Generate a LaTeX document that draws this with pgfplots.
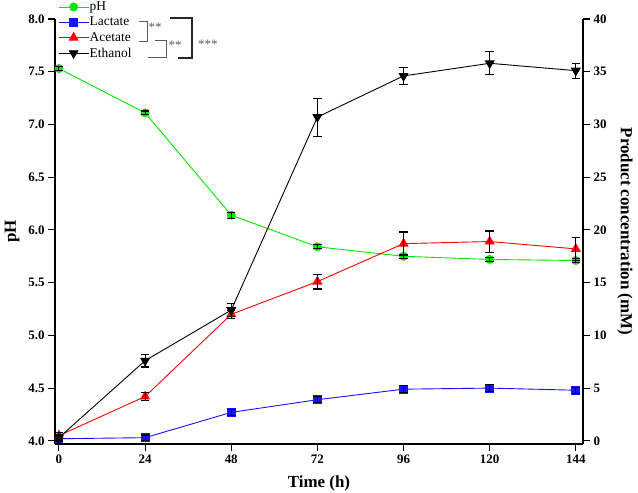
\documentclass[border=0pt]{standalone}
\usepackage{pgfplots}
\pgfplotsset{compat=1.18}
\usepackage{fontspec}
\setmainfont{Liberation Serif}
\definecolor{phgreen}{RGB}{0,230,0}
\definecolor{lacblue}{RGB}{20,20,255}
\definecolor{acred}{RGB}{255,0,0}
\definecolor{bracketgray}{RGB}{90,90,90}
\begin{document}
\begin{tikzpicture}
\pgfplotsset{
  common/.style={
    at={(55bp,-444bp)}, anchor=south west,
    scale only axis, width=528bp, height=425bp,
    xmin=-1.1, xmax=146,
    clip=false, clip marker paths=true,
    tick align=outside,
    major tick length=7bp,
    axis line style={-, line width=1.2pt},
    tick style={line width=1.1pt, black},
    tick label style={font=\fontsize{13}{14}\selectfont\bfseries},
    /pgf/number format/assume math mode=true,
    label style={font=\fontsize{17}{19}\selectfont\bfseries},
  },
  ebar/.style={
    draw=none, mark=none, forget plot,
    error bars/.cd, y dir=both, y explicit,
    error bar style={draw=black, line width=1.1pt, solid},
    error mark options={rotate=90, mark size=4.2pt, draw=black, line width=1.1pt},
  },
}
\pgfplotstableread{
t v e
0 7.53 0.02
24 7.11 0.018
48 6.14 0.028
72 5.84 0.02
96 5.75 0.018
120 5.72 0.018
144 5.71 0.02
}\phdata
\pgfplotstableread{
t v e
0 0.2 0.25
24 0.3 0.25
48 2.7 0.3
72 3.9 0.3
96 4.9 0.35
120 5.0 0.3
144 4.8 0.3
}\lacdata
\pgfplotstableread{
t v e
0 0.5 0.3
24 4.2 0.4
48 12.0 0.4
72 15.1 0.7
96 18.7 1.1
120 18.9 1.0
144 18.2 1.1
}\acdata
\pgfplotstableread{
t v e
0 0.3 0.3
24 7.6 0.6
48 12.4 0.6
72 30.7 1.8
96 34.6 0.8
120 35.8 1.1
144 35.1 0.7
}\etdata
% left axis: pH
\begin{axis}[common,
  axis y line*=left, axis x line*=bottom,
  ymin=3.97, ymax=8,
  ytick={4,4.5,...,8},
  yticklabel style={/pgf/number format/.cd, fixed, fixed zerofill, precision=1},
  xtick={0,24,...,144},
  xlabel={Time (h)},
  ylabel={pH},
  xlabel style={at={(axis description cs:0.5,-0.092)}, anchor=center},
  ylabel style={at={(axis description cs:-0.081,0.5)}, anchor=center},
]
\addplot+[phgreen, line width=0.9pt, mark=*, mark size=4pt,
  mark options={fill=phgreen, draw=phgreen, solid}]
  table[x=t, y=v] {\phdata};
\addplot+[ebar] table[x=t, y=v, y error=e] {\phdata};
\end{axis}
% right axis: products
\begin{axis}[common,
  axis y line*=right, axis x line=none,
  ymin=-0.3, ymax=40,
  ytick={0,5,...,40},
  ylabel={Product concentration (mM)},
  ylabel style={at={(axis description cs:1.0795,0.5)}, anchor=center, rotate=180},
  legend cell align=left,
  legend style={draw=none, fill=none, at={(axis description cs:0.0,1.047)}, anchor=north west,
    font=\fontsize{13.5}{15}\selectfont, row sep=3.8bp,
    nodes={inner sep=0.6bp}},
  legend image code/.code={\draw[mark repeat=2, mark phase=2] plot coordinates {(0bp,0bp) (15bp,0bp) (30bp,0bp)};},
]
\addlegendimage{phgreen, line width=0.9pt, mark=*, mark size=4pt, mark options={fill=phgreen, draw=phgreen, solid}}
\addlegendentry{pH}
\addplot+[lacblue, line width=0.9pt, mark=square*, mark size=4pt,
  mark options={fill=lacblue, draw=lacblue, solid}]
  table[x=t, y=v] {\lacdata};
\addlegendentry{Lactate}
\addplot+[acred, line width=0.9pt, mark=triangle*, mark size=5pt,
  mark options={fill=acred, draw=acred, solid}]
  table[x=t, y=v] {\acdata};
\addlegendentry{Acetate}
\addplot+[black, line width=0.9pt, mark=triangle*, mark size=5pt,
  mark options={fill=black, draw=black, solid, rotate=180}]
  table[x=t, y=v] {\etdata};
\addlegendentry{Ethanol}
\addplot+[ebar] table[x=t, y=v, y error=e] {\lacdata};
\addplot+[ebar] table[x=t, y=v, y error=e] {\acdata};
\addplot+[ebar] table[x=t, y=v, y error=e] {\etdata};
\end{axis}
% significance brackets
\draw[bracketgray, line width=0.9pt] (139bp,-21bp) -- (147bp,-21bp) -- (147bp,-41bp) -- (139bp,-41bp);
\node[bracketgray, font=\fontsize{13}{14}\selectfont, anchor=west, inner sep=0pt] at (148.5bp,-27bp) {**};
\draw[bracketgray, line width=0.9pt] (155bp,-40bp) -- (166bp,-40bp) -- (166bp,-57bp) -- (148bp,-57bp);
\node[bracketgray, font=\fontsize{13}{14}\selectfont, anchor=west, inner sep=0pt] at (168.5bp,-45bp) {**};
\draw[black!85, line width=1.5pt] (170bp,-18bp) -- (192bp,-18bp) -- (192bp,-58bp) -- (178bp,-58bp);
\node[bracketgray, font=\fontsize{13}{14}\selectfont, anchor=west, inner sep=0pt] at (198bp,-44bp) {***};
\pgfresetboundingbox
\path (0bp,0bp) rectangle (638bp,-493bp);
\end{tikzpicture}
\end{document}
